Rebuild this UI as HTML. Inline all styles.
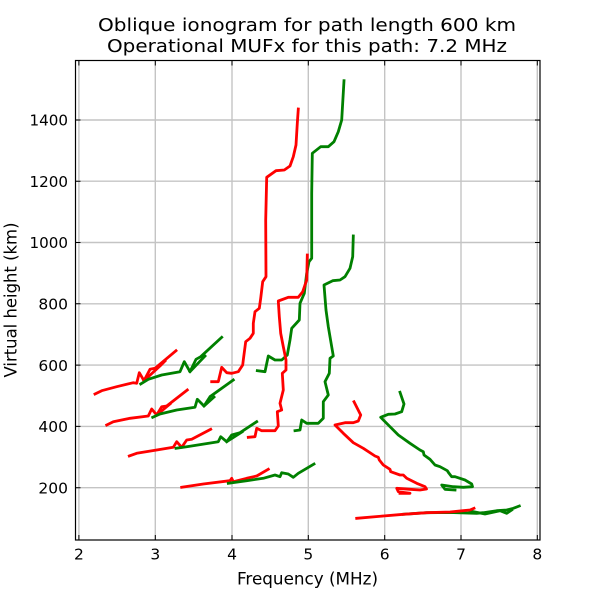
<!DOCTYPE html>
<html><head><meta charset="utf-8"><style>
html,body{margin:0;padding:0;background:#fff;}
svg{display:block;}
text{font-family:"DejaVu Sans","Liberation Sans",sans-serif;fill:#000;}
</style></head><body>
<svg width="600" height="600" viewBox="0 0 600 600" xmlns="http://www.w3.org/2000/svg">
<rect width="600" height="600" fill="#fff"/>
<!-- title -->
<text x="307" y="31" font-size="17.5" text-anchor="middle" textLength="418" lengthAdjust="spacingAndGlyphs">Oblique ionogram for path length 600 km</text>
<text x="307" y="52" font-size="17.5" text-anchor="middle" textLength="400" lengthAdjust="spacingAndGlyphs">Operational MUFx for this path: 7.2 MHz</text>
<!-- grid -->
<g stroke="#c4c4c4" stroke-width="1.4" fill="none">
<line x1="78.9" y1="60.5" x2="78.9" y2="540"/>
<line x1="155.3" y1="60.5" x2="155.3" y2="540"/>
<line x1="232" y1="60.5" x2="232" y2="540"/>
<line x1="308.3" y1="60.5" x2="308.3" y2="540"/>
<line x1="384.7" y1="60.5" x2="384.7" y2="540"/>
<line x1="461" y1="60.5" x2="461" y2="540"/>
<line x1="537.3" y1="60.5" x2="537.3" y2="540"/>
<line x1="75.5" y1="120" x2="540" y2="120"/>
<line x1="75.5" y1="181.2" x2="540" y2="181.2"/>
<line x1="75.5" y1="242.5" x2="540" y2="242.5"/>
<line x1="75.5" y1="303.8" x2="540" y2="303.8"/>
<line x1="75.5" y1="365.1" x2="540" y2="365.1"/>
<line x1="75.5" y1="426.4" x2="540" y2="426.4"/>
<line x1="75.5" y1="487.7" x2="540" y2="487.7"/>
</g>
<!-- data -->
<g fill="none" stroke-width="2.8" stroke-linejoin="round" stroke-linecap="square">
<!-- pair 1 -->
<polyline stroke="#ff0000" points="95,394 101.7,390.7 116.7,386.7 133.3,382.7 136.7,383.3 139.3,372.7 144,380.7 150,369.3 155,368.3 176,350.7"/>
<polyline stroke="#ff0000" points="144,380.7 160,366 165,361"/>
<polyline stroke="#008000" points="140.7,384 148.3,379.3 161.7,375 180,371.7 184.3,361.7 190,371.7 196,359.3 200.7,356.7 221.7,337.3"/>
<polyline stroke="#008000" points="190,371.7 205,356"/>
<!-- pair 2 -->
<polyline stroke="#ff0000" points="106.7,425 113.3,421.7 130,418.3 148.3,416 151.7,409 156.7,415 161.7,406.7 166.7,406 187.3,390"/>
<polyline stroke="#ff0000" points="156.7,415 170,404"/>
<polyline stroke="#008000" points="152.7,417.3 160,414 176.7,410 195,407.3 197.3,399.3 204,406 210,396.7 233.3,380"/>
<polyline stroke="#008000" points="204,406 214,397"/>
<!-- pair 3 -->
<polyline stroke="#ff0000" points="129.3,456 136.7,453.3 156.7,450 173.3,447.3 176.7,441.7 181.7,447.3 186.7,440 191.7,439.3 210.7,429.3"/>
<polyline stroke="#008000" points="176,448.3 186.7,446.7 218.3,441.7 220.7,436.7 226.7,441.7 231.7,435 240,432.7 256.7,421.7"/>
<polyline stroke="#008000" points="226.7,441.7 242,432"/>
<!-- pair 4 -->
<polyline stroke="#ff0000" points="181.7,487.3 203.3,484 230,480.7 231.7,478.3 233.3,481.7 246.7,478.3 256.7,476 268.3,469.3"/>
<polyline stroke="#008000" points="228.3,483.3 246.7,480.7 263.3,478.3 275,475 280,476.7 281.7,472.7 288.3,474 293.3,477.3 298.3,473.3 314,464"/>
<!-- tall red -->
<polyline stroke="#ff0000" points="298.3,109 297.3,123.3 296,145 293.3,156.7 290,166 284.3,170 276,170.7 266.7,177.3 265.7,220 266,276.7 262.7,281.7 260.7,298.3 259.3,308.3 255,311.7 253.3,323.3 253.3,333.3 250,338.3 245.7,341.7 243.3,360 242.7,365 238.3,371.7 231.7,373.3 226.7,372.7 221.7,367.3 218.3,381.7 211.7,381.7"/>
<!-- tall green -->
<polyline stroke="#008000" points="344,80.7 341.7,120 338.3,131.7 334,141.7 328.3,146.7 320.7,146.7 312.3,153.3 311.7,193.3 311.7,258.3 309,261.7 306.7,273.3 304.3,293.3 300,303.3 299.3,320 291.7,328.3 290,340 287.3,355 281.7,360 275,360 268.3,356 265,371.7 257.3,370.7"/>
<!-- second red -->
<polyline stroke="#ff0000" points="307.3,255 306.7,280 302.7,291.7 298.3,297.3 288.3,297.3 278.3,301 279.3,316.7 280.7,333.3 283.3,346.7 286,360 286,370 282.3,373.3 283.3,390 280,403.3 281.7,410 277.3,411.7 278.3,426 275,430.7 261.7,430.7 256.7,428.3 255,436.7 248.3,437.3"/>
<!-- second green -->
<polyline stroke="#008000" points="353.3,236 352.7,256.7 350,268.3 345,276.7 340,280 332.7,280.7 324,285 326,310 328.3,326.7 331.7,346.7 333.3,356 330,358.3 329.3,373.3 325,381.7 328.3,395 323.3,401.7 323.3,418.3 318.3,423.3 306.7,423.3 301.7,420 300,430 295,430.7"/>
<!-- descending red -->
<polyline stroke="#ff0000" points="354,401.7 360.7,415 358.3,421 353.3,422.7 345,422.7 335,425 343.3,433.3 353.3,442.7 363.3,448.3 375,456 378.3,457.3 379.3,460 383.3,465 390,469.3 390.7,471.7 400,475 403.3,475 406.7,478.3 416.7,483.3 425,486.7 426.5,489 420,490 410,489.3 396.7,488.3 398.3,491.7 410,493.3 400,493.3"/>
<!-- descending green -->
<polyline stroke="#008000" points="400,392.3 404,404 401.7,411.7 395,414 388.3,414.3 380.7,417.3 390,426.7 398.3,435 410,443.3 420,450 423.3,451.7 424,455 430,459.3 435,465 440,466.7 447.3,470.7 449,473.3 451.7,476.7 455,476.7 465,480 471.7,484 472.5,486.7 463.3,487.3 453.3,486.7 441.7,485 445,489.3 455,490"/>
<!-- bottom lines -->
<polyline stroke="#008000" points="403.3,514.3 426.7,512.7 450,512.5 476.7,513.3 483.3,512.7 490,511.7 496.7,510.7 506.7,510 513.3,508.3 519.3,506"/>
<polyline stroke="#008000" points="470,511 485,514 500,510.7 506.7,513.3 511.7,510"/>
<polyline stroke="#ff0000" points="356.7,518.3 383.3,516 403.3,514.3 426.7,512.7 450,512 463.3,510.7 470,510 474,508.3"/>
</g>
<!-- axes frame -->
<rect x="75.5" y="60.5" width="464.5" height="479.5" fill="none" stroke="#000" stroke-width="1.2"/>
<!-- ticks -->
<g stroke="#000" stroke-width="1">
<path d="M78.9 540v-5M155.3 540v-5M232 540v-5M308.3 540v-5M384.7 540v-5M461 540v-5M537.3 540v-5"/>
<path d="M78.9 60.5v5M155.3 60.5v5M232 60.5v5M308.3 60.5v5M384.7 60.5v5M461 60.5v5M537.3 60.5v5"/>
<path d="M75.5 120h5M75.5 181.2h5M75.5 242.5h5M75.5 303.8h5M75.5 365.1h5M75.5 426.4h5M75.5 487.7h5"/>
<path d="M540 120h-5M540 181.2h-5M540 242.5h-5M540 303.8h-5M540 365.1h-5M540 426.4h-5M540 487.7h-5"/>
</g>
<!-- x tick labels -->
<g font-size="15.5" text-anchor="middle">
<text x="78.9" y="559.5">2</text>
<text x="155.3" y="559.5">3</text>
<text x="232" y="559.5">4</text>
<text x="308.3" y="559.5">5</text>
<text x="384.7" y="559.5">6</text>
<text x="461" y="559.5">7</text>
<text x="537.3" y="559.5">8</text>
</g>
<!-- y tick labels -->
<g font-size="15.5" text-anchor="end">
<text x="68" y="125.7" textLength="38.5" lengthAdjust="spacingAndGlyphs">1400</text>
<text x="68" y="186.9" textLength="38.5" lengthAdjust="spacingAndGlyphs">1200</text>
<text x="68" y="248.2" textLength="38.5" lengthAdjust="spacingAndGlyphs">1000</text>
<text x="68" y="309.5">800</text>
<text x="68" y="370.8">600</text>
<text x="68" y="432.1">400</text>
<text x="68" y="493.4">200</text>
</g>
<!-- axis labels -->
<text x="307.5" y="584.3" font-size="16.8" text-anchor="middle" textLength="141" lengthAdjust="spacingAndGlyphs">Frequency (MHz)</text>
<text transform="translate(16.7,300) rotate(-90)" font-size="16.5" text-anchor="middle" textLength="155" lengthAdjust="spacingAndGlyphs">Virtual height (km)</text>
</svg>
</body></html>
